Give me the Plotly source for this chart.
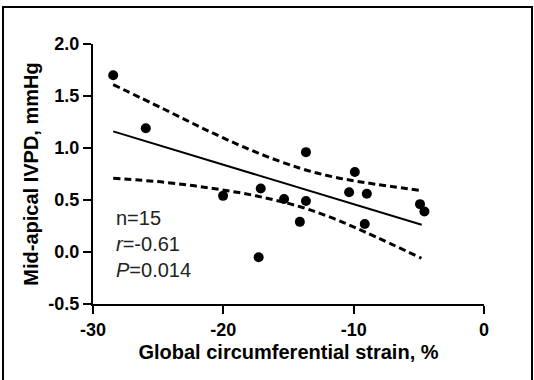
import plotly.graph_objects as go

# Scatter data
strain = [-28.45, -25.95, -20.02, -17.13, -17.29, -15.34, -14.13, -13.66, -13.66,
          -10.35, -9.91, -8.99, -9.15, -4.91, -4.57]
ivpd = [1.70, 1.19, 0.54, 0.61, -0.05, 0.51, 0.29, 0.49, 0.96,
        0.575, 0.77, 0.56, 0.27, 0.46, 0.39]

# Regression line endpoints
fit_x = [-28.45, -4.78]
fit_y = [1.16, 0.262]

# 95% confidence band
band_x = [-28.45, -24.5, -21.0, -17.5, -14.1, -11.5, -9.0, -4.8]
band_upper = [1.61, 1.37, 1.155, 0.96, 0.805, 0.72, 0.665, 0.59]
band_lower = [0.71, 0.67, 0.615, 0.54, 0.435, 0.32, 0.185, -0.06]

x_ticks = [-30, -20, -10, 0]
x_ticklabels = ["-30", "-20", "-10", "0"]
y_ticks = [-0.5, 0.0, 0.5, 1.0, 1.5, 2.0]
y_ticklabels = ["-0.5", "0.0", "0.5", "1.0", "1.5", "2.0"]

FONT = "Liberation Sans, Arial"

fig = go.Figure()
fig.add_trace(go.Scatter(x=band_x, y=band_upper, mode="lines",
                         line=dict(color="black", width=3, dash="7px,4px", shape="spline"),
                         showlegend=False))
fig.add_trace(go.Scatter(x=band_x, y=band_lower, mode="lines",
                         line=dict(color="black", width=3, dash="7px,4px", shape="spline"),
                         showlegend=False))
fig.add_trace(go.Scatter(x=fit_x, y=fit_y, mode="lines",
                         line=dict(color="black", width=2), showlegend=False))
fig.add_trace(go.Scatter(x=strain, y=ivpd, mode="markers",
                         marker=dict(color="black", size=10), showlegend=False))

L, R, T, B = 93, 50, 44, 76
W, H = 534, 380
pw, ph = W - L - R, H - T - B

def px_x(p):
    return (p - L) / pw

def px_y(p):
    return (H - B - p) / ph

fig.add_shape(type="rect", xref="paper", yref="paper",
              x0=px_x(3), x1=px_x(532), y0=px_y(392), y1=px_y(7),
              line=dict(color="black", width=2), fillcolor="rgba(0,0,0,0)", layer="below")

fig.add_annotation(xref="paper", yref="paper", x=px_x(114), y=px_y(205),
                   xanchor="left", yanchor="top", align="left", showarrow=False,
                   text="n=15<br><i>r</i>=-0.61<br><i>P</i>=0.014",
                   font=dict(family=FONT, size=20, color="#222"))

fig.update_layout(
    width=W, height=H, margin=dict(l=L, r=R, t=T, b=B),
    plot_bgcolor="white", paper_bgcolor="white",
    font=dict(family=FONT, size=18, color="black"),
    xaxis=dict(range=[-30, 0], tickmode="array", tickvals=x_ticks,
               ticktext=["<b>%s</b>" % t for t in x_ticklabels],
               tickfont=dict(family=FONT, size=18, color="black"),
               showline=True, linecolor="black", linewidth=2, ticks="outside",
               ticklen=8, tickwidth=2, tickcolor="black", showgrid=False, zeroline=False,
               automargin=False,
               title=dict(text="<b>Global circumferential strain, %</b>", standoff=6,
                          font=dict(family=FONT, size=20, color="black"))),
    yaxis=dict(range=[-0.5, 2.0], tickmode="array", tickvals=y_ticks,
               ticktext=["<b>%s</b>" % t for t in y_ticklabels],
               tickfont=dict(family=FONT, size=18, color="black"),
               showline=True, linecolor="black", linewidth=2, ticks="outside",
               ticklen=8, tickwidth=2, tickcolor="black", showgrid=False, zeroline=False,
               automargin=False,
               title=dict(text="<b>Mid-apical IVPD, mmHg</b>", standoff=4,
                          font=dict(family=FONT, size=20, color="black"))),
)

fig.write_html("out.html")
